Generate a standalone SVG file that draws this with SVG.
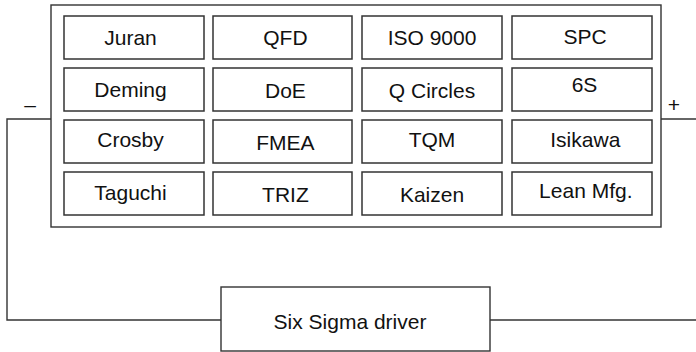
<svg xmlns="http://www.w3.org/2000/svg" width="696" height="352" viewBox="0 0 696 352">
<style>
.box{fill:#fff;stroke:#333;stroke-width:1.4}
.cell{fill:#fff;stroke:#333;stroke-width:1.5}
.t{font-family:"Liberation Sans",Arial,sans-serif;font-size:21px;fill:#111;text-anchor:middle}
.w{fill:none;stroke:#333;stroke-width:1.4}
</style>
<rect width="696" height="352" fill="#fff"/>
<g id="connectors">
<polyline class="w" points="51,119 7,119 7,320 221,320"/>
<polyline class="w" points="661,119 696,119"/>
<polyline class="w" points="490,320 696,320"/>
<text class="t" x="30" y="112">–</text>
<text class="t" x="674" y="112">+</text>
</g>
<g id="group">
<rect class="box" x="51" y="5" width="610" height="222"/>
</g>
<g id="juran"><rect class="cell" x="64" y="16" width="140" height="43"/><text class="t" x="130.5" y="44.5">Juran</text></g>
<g id="qfd"><rect class="cell" x="213" y="16" width="139" height="43"/><text class="t" x="285.4" y="45">QFD</text></g>
<g id="iso9000"><rect class="cell" x="362" y="16" width="140" height="43"/><text class="t" x="432" y="44.5">ISO 9000</text></g>
<g id="spc"><rect class="cell" x="512" y="16" width="140" height="43"/><text class="t" x="585" y="43.5">SPC</text></g>
<g id="deming"><rect class="cell" x="64" y="68" width="140" height="43"/><text class="t" x="130.5" y="97">Deming</text></g>
<g id="doe"><rect class="cell" x="213" y="68" width="139" height="43"/><text class="t" x="285.4" y="98.3">DoE</text></g>
<g id="qcircles"><rect class="cell" x="362" y="68" width="140" height="43"/><text class="t" x="432" y="98">Q Circles</text></g>
<g id="sixs"><rect class="cell" x="512" y="68" width="140" height="43"/><text class="t" x="584.5" y="92">6S</text></g>
<g id="crosby"><rect class="cell" x="64" y="120" width="140" height="43"/><text class="t" x="130.5" y="146.7">Crosby</text></g>
<g id="fmea"><rect class="cell" x="213" y="120" width="139" height="43"/><text class="t" x="285.4" y="150">FMEA</text></g>
<g id="tqm"><rect class="cell" x="362" y="120" width="140" height="43"/><text class="t" x="432" y="146.7">TQM</text></g>
<g id="isikawa"><rect class="cell" x="512" y="120" width="140" height="43"/><text class="t" x="585.3" y="147.3">Isikawa</text></g>
<g id="taguchi"><rect class="cell" x="64" y="172" width="140" height="43"/><text class="t" x="130.5" y="200">Taguchi</text></g>
<g id="triz"><rect class="cell" x="213" y="172" width="139" height="43"/><text class="t" x="285.4" y="202.3">TRIZ</text></g>
<g id="kaizen"><rect class="cell" x="362" y="172" width="140" height="43"/><text class="t" x="432" y="202">Kaizen</text></g>
<g id="lean"><rect class="cell" x="512" y="172" width="140" height="43"/><text class="t" x="585.8" y="198.3">Lean Mfg.</text></g>
<g id="driver"><rect class="box" x="221" y="287" width="269" height="64"/><text class="t" x="350" y="329">Six Sigma driver</text></g>
</svg>
